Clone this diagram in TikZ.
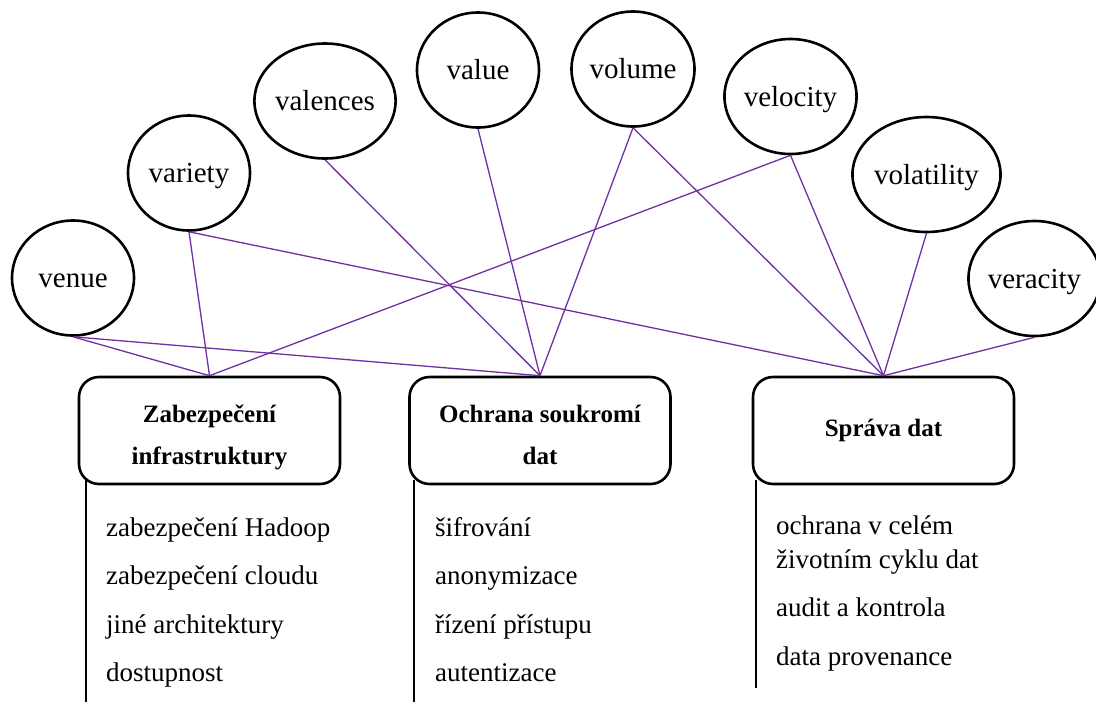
\documentclass[tikz,border=0pt]{standalone}
\usepackage{fontspec}
\setmainfont{Liberation Serif}
\usetikzlibrary{shapes.geometric}
\definecolor{linkpurple}{HTML}{7030A0}
\tikzset{
  vcircle/.style={ellipse, draw=black, line width=2.6pt, minimum width=122pt, minimum height=115pt, inner sep=0pt, text height=26pt, text depth=6.6pt, font=\fontsize{29}{32}\selectfont},
  areabox/.style={rectangle, rounded corners=20pt, draw=black, line width=2.6pt, minimum width=261pt, minimum height=107pt, align=center, font=\fontsize{25}{42}\selectfont\bfseries},
  twoline/.style={text height=80pt, text depth=13pt},
  link/.style={draw=linkpurple, line width=1.3pt},
  stem/.style={draw=black, line width=1.3pt},
  item/.style={anchor=mid west, inner sep=0pt, font=\fontsize{27}{34}\selectfont, align=left}
}
\begin{document}
\begin{tikzpicture}[x=1pt, y=-1pt]
\useasboundingbox (0,0) rectangle (1096,702);
% circles
\node[vcircle] (venue) at (73,278) {venue};
\node[vcircle] (variety) at (189,173) {variety};
\node[vcircle] (valences) at (325,101) {valences};
\node[vcircle] (value) at (478,70) {value};
\node[vcircle] (volume) at (633,69) {volume};
\node[vcircle] (velocity) at (790.5,96.5) {velocity};
\node[vcircle] (volatility) at (926.5,174.5) {volatility};
\node[vcircle] (veracity) at (1034.5,278.5) {veracity};
% boxes
\node[areabox, twoline] (infra) at (209.5,430.5) {Zabezpečení\\infrastruktury};
\node[areabox, twoline] (privacy) at (540,430.5) {Ochrana soukromí\\dat};
\node[areabox] (mgmt) at (883.5,430.5) {Správa dat};
% links
\draw[link] (venue.south) -- (infra.north);
\draw[link] (venue.south) -- (privacy.north);
\draw[link] (variety.south) -- (infra.north);
\draw[link] (variety.south) -- (mgmt.north);
\draw[link] (valences.south) -- (privacy.north);
\draw[link] (value.south) -- (privacy.north);
\draw[link] (volume.south) -- (privacy.north);
\draw[link] (volume.south) -- (mgmt.north);
\draw[link] (velocity.south) -- (infra.north);
\draw[link] (velocity.south) -- (mgmt.north);
\draw[link] (volatility.south) -- (mgmt.north);
\draw[link] (veracity.south) -- (mgmt.north);
% stems
\coordinate (s1a) at (86,480); \coordinate (s1b) at (86,702);
\coordinate (s2a) at (414,480); \coordinate (s2b) at (414,702);
\coordinate (s3a) at (756,480); \coordinate (s3b) at (756,688);
\draw[stem] (s1a) -- (s1b);
\draw[stem] (s2a) -- (s2b);
\draw[stem] (s3a) -- (s3b);
% items
\node[item] (i11) at (106,534) {zabezpečení Hadoop};
\node[item] (i12) at (106,582) {zabezpečení cloudu};
\node[item] (i13) at (106,631) {jiné architektury};
\node[item] (i14) at (106,679) {dostupnost};
\node[item] (i21) at (435,534) {šifrování};
\node[item] (i22) at (435,582) {anonymizace};
\node[item] (i23) at (435,631) {řízení přístupu};
\node[item] (i24) at (435,679) {autentizace};
\node[item] (i31) at (776,532) {ochrana v celém};
\node[item] (i32) at (776,566) {životním cyklu dat};
\node[item] (i33) at (776,614) {audit a kontrola};
\node[item] (i34) at (776,663) {data provenance};
\end{tikzpicture}
\end{document}
